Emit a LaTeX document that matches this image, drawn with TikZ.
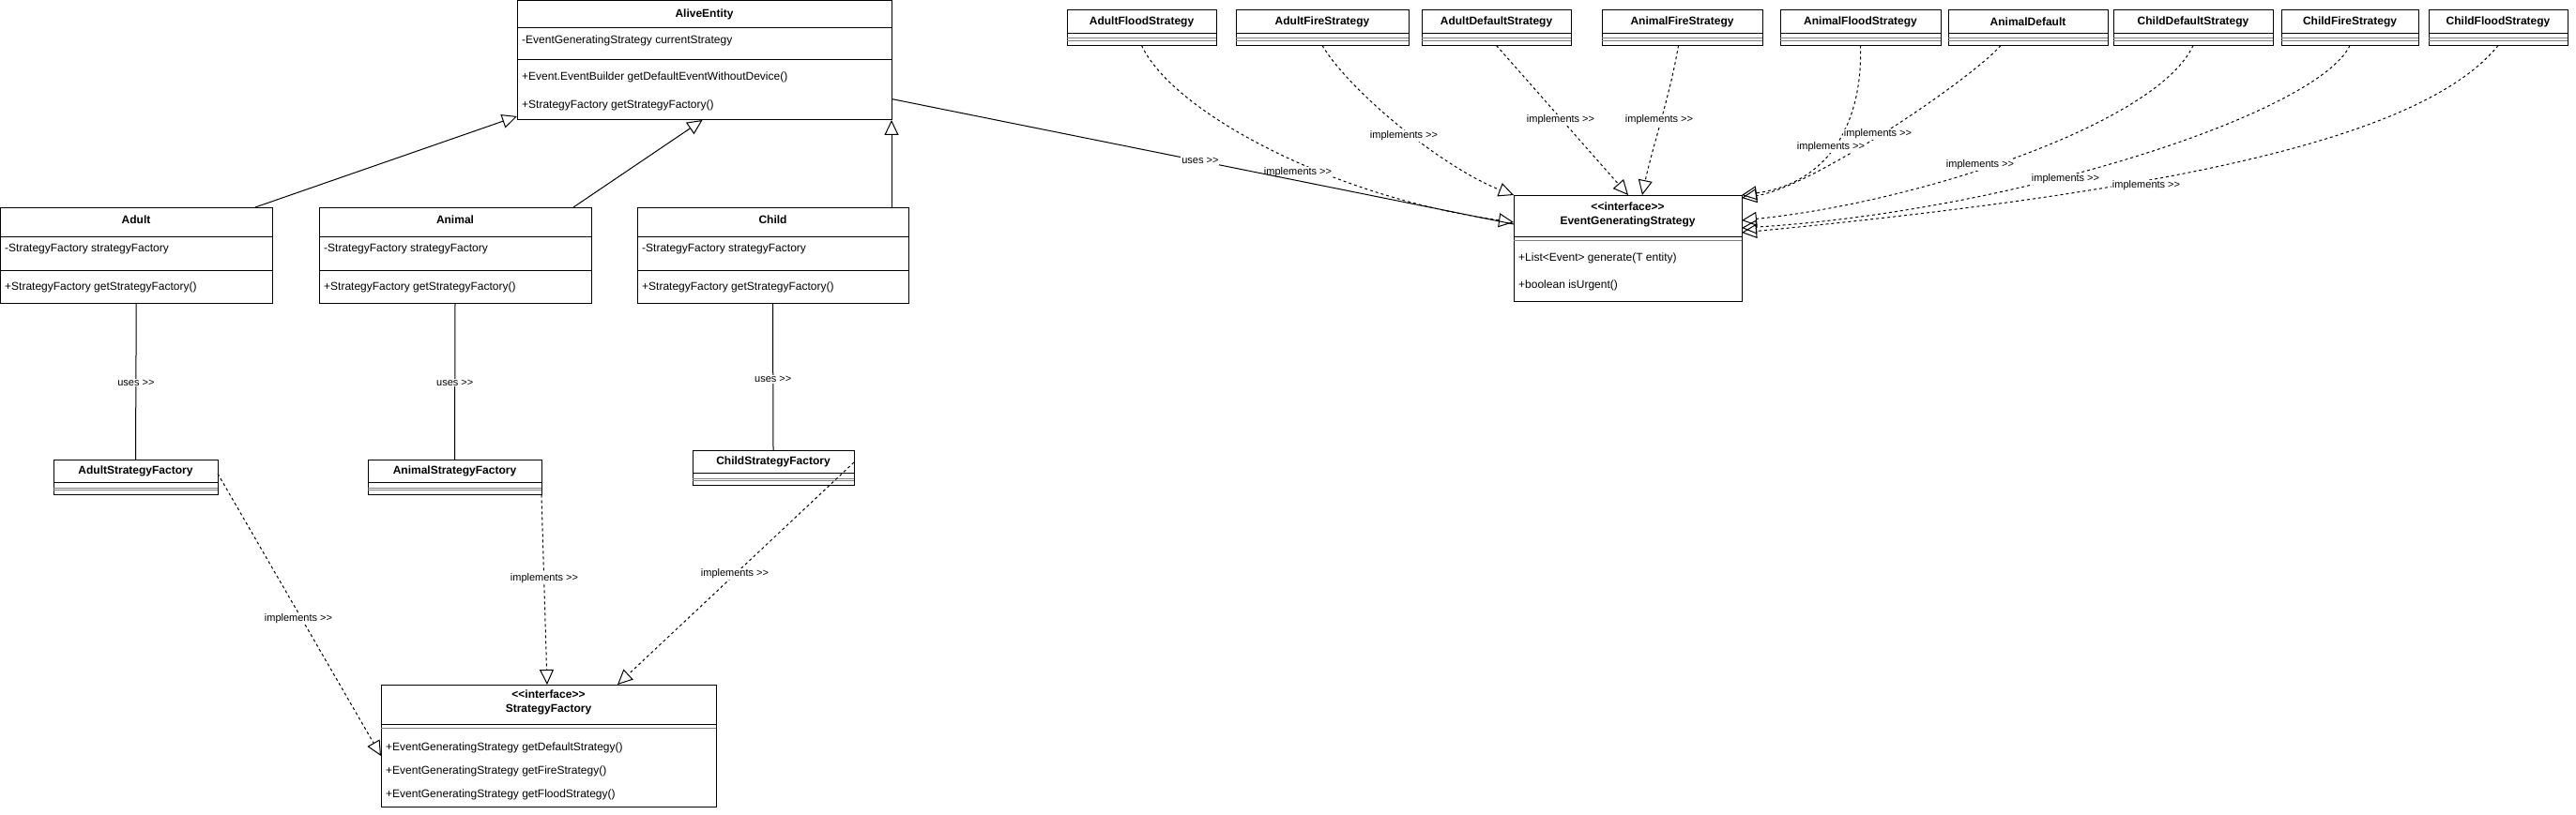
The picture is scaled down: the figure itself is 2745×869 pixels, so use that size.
\documentclass[tikz,border=0pt]{standalone}
\usepackage{fontspec}
\newfontfamily\umlfont{Liberation Sans}
\usetikzlibrary{arrows.meta}
\tikzset{
  box/.style={draw, line width=1pt, inner sep=0pt, outer sep=0pt, anchor=north west, fill=white},
  ttl/.style={font=\umlfont\bfseries\fontsize{12}{15}\selectfont, inner sep=0pt, align=center},
  mem/.style={font=\umlfont\fontsize{12}{14}\selectfont, anchor=west, inner sep=0pt},
  lbl/.style={font=\umlfont\fontsize{11}{13}\selectfont, fill=white, inner sep=1pt},
  sepline/.style={line width=1pt},
  graysep/.style={line width=1pt, gray},
  impl/.style={line width=1pt, dash pattern=on 3pt off 3pt, -{Triangle[open, length=16pt, width=15pt]}},
  gen/.style={line width=1pt, -{Triangle[open, length=16pt, width=15pt]}},
  useline/.style={line width=1pt},
}
% name, x-left, width, y-top, title
\newcommand\umlempty[5]{%
  \node[box, minimum width=#3pt, minimum height=37.5pt] (#1) at (#2,#4) {};
  \node[ttl] at ([yshift=-12.5pt]#1.north) {#5};
  \draw[sepline] ([yshift=-24.5pt]#1.north west) -- ([yshift=-24.5pt]#1.north east);
  \draw[graysep] ([yshift=-30pt]#1.north west) -- ([yshift=-30pt]#1.north east);
  \draw[graysep] ([yshift=-32.5pt]#1.north west) -- ([yshift=-32.5pt]#1.north east);
}
\begin{document}
\begin{tikzpicture}[x=1pt,y=-1pt]
\useasboundingbox[fill=white] (0,0) rectangle (2745,869);

% ---------- AliveEntity ----------
\node[box, minimum width=399pt, minimum height=127.5pt] (alive) at (551,0.5) {};
\draw[sepline] (551,30) -- (950,30);
\draw[sepline] (551,64) -- (950,64);
\node[ttl] at (750.5,15) {AliveEntity};
\node[mem] at (556,43) {-EventGeneratingStrategy currentStrategy};
\node[mem] at (556,82) {+Event.EventBuilder getDefaultEventWithoutDevice()};
\node[mem] at (556,112) {+StrategyFactory getStrategyFactory()};

% ---------- Adult / Animal / Child ----------
\node[box, minimum width=289.5pt, minimum height=102pt] (adult) at (0.5,221) {};
\draw[sepline] (0.5,252) -- (290,252);
\draw[sepline] (0.5,288) -- (290,288);
\node[ttl] at (145,234) {Adult};
\node[mem] at (5,266) {-StrategyFactory strategyFactory};
\node[mem] at (5,306) {+StrategyFactory getStrategyFactory()};

\node[box, minimum width=290pt, minimum height=102pt] (animal) at (340,221) {};
\draw[sepline] (340,252) -- (630,252);
\draw[sepline] (340,288) -- (630,288);
\node[ttl] at (485,234) {Animal};
\node[mem] at (345,266) {-StrategyFactory strategyFactory};
\node[mem] at (345,306) {+StrategyFactory getStrategyFactory()};

\node[box, minimum width=289pt, minimum height=102pt] (child) at (679,221) {};
\draw[sepline] (679,252) -- (968,252);
\draw[sepline] (679,288) -- (968,288);
\node[ttl] at (823.5,234) {Child};
\node[mem] at (684,266) {-StrategyFactory strategyFactory};
\node[mem] at (684,306) {+StrategyFactory getStrategyFactory()};

% ---------- factories ----------
\umlempty{asf}{57}{175}{490}{AdultStrategyFactory}
\umlempty{ansf}{392}{185}{490}{AnimalStrategyFactory}
\umlempty{csf}{738}{172}{480}{ChildStrategyFactory}

% ---------- StrategyFactory interface ----------
\node[box, minimum width=357pt, minimum height=130pt] (sf) at (406,730) {};
\node[ttl] at (584.5,749) {<<interface>>\\StrategyFactory};
\draw[sepline] (406,772) -- (763,772);
\draw[graysep] (406,776) -- (763,776);
\node[mem] at (411,797) {+EventGeneratingStrategy getDefaultStrategy()};
\node[mem] at (411,822) {+EventGeneratingStrategy getFireStrategy()};
\node[mem] at (411,847) {+EventGeneratingStrategy getFloodStrategy()};

% ---------- EventGeneratingStrategy interface ----------
\node[box, minimum width=243pt, minimum height=113pt] (egs) at (1613,208) {};
\node[ttl] at (1734.5,229) {<<interface>>\\EventGeneratingStrategy};
\draw[sepline] (1613,252.5) -- (1856,252.5);
\draw[graysep] (1613,256.5) -- (1856,256.5);
\node[mem] at (1618,275) {+List<Event> generate(T entity)};
\node[mem] at (1618,304) {+boolean isUrgent()};

% ---------- strategies (top row) ----------
\umlempty{afl}{1137}{159}{11}{AdultFloodStrategy}
\umlempty{afi}{1317}{184}{11}{AdultFireStrategy}
\umlempty{ade}{1515}{159}{11}{AdultDefaultStrategy}
\umlempty{anf}{1707}{171}{11}{AnimalFireStrategy}
\umlempty{anfl}{1897}{171}{11}{AnimalFloodStrategy}
\umlempty{anid}{2076}{170}{11}{AnimalDefault}
\umlempty{chd}{2252}{170}{11}{ChildDefaultStrategy}
\umlempty{chf}{2431}{146}{11}{ChildFireStrategy}
\umlempty{chfl}{2588}{148}{11}{ChildFloodStrategy}

% ---------- generalizations ----------
\draw[gen] ([xshift=-18pt]adult.north east) -- ([yshift=4pt]alive.south west);
\draw[gen] ([xshift=-19pt]animal.north east) -- ([xshift=-2pt]alive.south);
\draw[gen] ([xshift=-18pt]child.north east) -- (alive.south east);

% ---------- uses (entity -> factory) ----------
\draw[useline] (adult.south) -- node[lbl, pos=0.51] (u1) {uses >>} (asf.north);
\draw[useline] (animal.south) -- node[lbl, pos=0.51] (u2) {uses >>} (ansf.north);
\draw[useline] (child.south) -- node[lbl, pos=0.52] (u3) {uses >>} (csf.north);

% ---------- factory implements ----------
\draw[impl] ([yshift=-15pt]asf.north east) -- ([yshift=-76pt]sf.north west);
\node[lbl] (l1) at (318,660) {implements >>};
\draw[impl] (ansf.south east) -- ([xshift=-1.5pt]sf.north);
\node[lbl] (l2) at (580,617) {implements >>};
\draw[impl] ([yshift=-13pt]csf.north east) -- ([xshift=252pt]sf.north west);
\node[lbl] (l3) at (783,612) {implements >>};

% ---------- strategy implements ----------
\draw[impl] (afl.south) .. controls (1250,120) and (1420,210) .. ([yshift=-29pt]egs.north west);
\node[lbl] (s1) at (1383,184) {implements >>};
\draw[impl] (afi.south) .. controls (1440,100) and (1540,180) .. (egs.north west);
\node[lbl] (s2) at (1496,145) {implements >>};
\draw[impl] (ade.south) .. controls (1641,101) and (1688,155) .. ([xshift=122pt]egs.north west);
\node[lbl] (s3) at (1663,128) {implements >>};
\draw[impl] ([xshift=-4pt]anf.south) .. controls (1780,100) and (1760,160) .. ([xshift=137pt]egs.north west);
\node[lbl] (s4) at (1768,128) {implements >>};
\draw[impl] (anfl.south) .. controls (1985,130) and (1950,195) .. (egs.north east);
\draw[impl] ([xshift=-29pt]anid.south) .. controls (2100,85) and (1930,200) .. ([yshift=-3pt]egs.north east);
\node[lbl] (s6) at (2001,143) {implements >>};
\node[lbl] (s5) at (1951,157) {implements >>};
\draw[impl] (chd.south) .. controls (2300,130) and (2050,215) .. ([yshift=-27pt]egs.north east);
\node[lbl] (s7) at (2110,176) {implements >>};
\draw[impl] (chf.south) .. controls (2470,120) and (2150,225) .. ([yshift=-35pt]egs.north east);
\node[lbl] (s8) at (2201,191) {implements >>};
\draw[impl] (chfl.south) .. controls (2580,150) and (2300,205) .. ([yshift=-40pt]egs.north east);
\node[lbl] (s9) at (2287,198) {implements >>};

% ---------- uses (entity -> strategy) ----------
\draw[useline] ([yshift=-105pt]alive.north east) -- node[lbl, pos=0.496] (u0) {uses >>} ([yshift=-31pt]egs.north west);

\end{tikzpicture}
\end{document}
